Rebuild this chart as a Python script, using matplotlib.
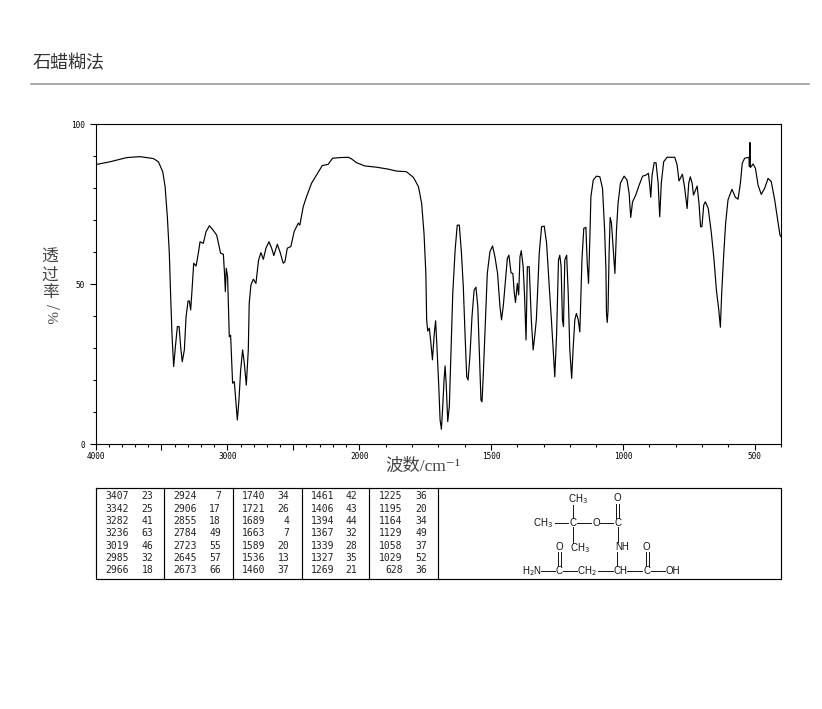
import matplotlib
matplotlib.use("Agg")
import numpy as np
import matplotlib.pyplot as plt
from matplotlib.ticker import FixedLocator

cjk = ['Noto Sans CJK SC', 'DejaVu Sans']
serif_cjk = ['Liberation Serif', 'Noto Sans CJK SC', 'DejaVu Sans']
plt.rcParams['font.family'] = cjk

# spectrum
wavenumber = [4000, 3889, 3763, 3662, 3561, 3523, 3490, 3472, 3455, 3440, 3429, 3419, 3407, 3394, 3379, 3366,
              3354, 3342, 3326, 3313, 3298, 3288, 3278, 3268, 3255, 3237, 3220, 3207, 3182, 3162, 3136, 3111,
              3081, 3051, 3030, 3020, 3015, 3008, 2998, 2985, 2975, 2960, 2947, 2934, 2924, 2912, 2899, 2884,
              2871, 2856, 2841, 2834, 2821, 2803, 2783, 2763, 2745, 2727, 2707, 2684, 2664, 2647, 2621, 2601,
              2576, 2563, 2545, 2518, 2493, 2462, 2450, 2424, 2399, 2361, 2323, 2280, 2235, 2202, 2147, 2083,
              2058, 2020, 1979, 1934, 1890, 1859, 1821, 1794, 1775, 1763, 1754, 1747, 1744, 1740, 1734, 1729,
              1722, 1715, 1710, 1705, 1698, 1693, 1688, 1683, 1678, 1674, 1670, 1664, 1658, 1652, 1645, 1636,
              1628, 1620, 1612, 1605, 1598, 1592, 1587, 1580, 1572, 1564, 1557, 1550, 1544, 1538, 1534, 1529,
              1521, 1514, 1504, 1494, 1485, 1475, 1466, 1460, 1453, 1446, 1438, 1432, 1424, 1417, 1412, 1407,
              1400, 1395, 1390, 1385, 1378, 1373, 1367, 1362, 1355, 1347, 1340, 1333, 1328, 1324, 1317, 1308,
              1298, 1289, 1279, 1270, 1264, 1258, 1251, 1244, 1239, 1234, 1229, 1225, 1220, 1213, 1207, 1201,
              1194, 1188, 1182, 1176, 1169, 1163, 1155, 1148, 1140, 1135, 1130, 1125, 1121, 1112, 1100, 1087,
              1077, 1069, 1064, 1062, 1059, 1056, 1052, 1048, 1043, 1037, 1030, 1024, 1018, 1009, 995, 984,
              976, 970, 963, 951, 938, 925, 913, 903, 898, 894, 889, 881, 874, 866, 860, 854,
              845, 832, 803, 794, 787, 780, 774, 766, 756, 750, 744, 737, 732, 718, 711, 705,
              700, 693, 687, 676, 664, 654, 645, 636, 630, 625, 617, 610, 601, 586, 573, 563,
              554, 547, 538, 521, 520, 518, 516, 506, 497, 487, 475, 462, 449, 437, 424, 411,
              404, 400]
transmittance = [87.3, 88.2, 89.5, 89.8, 89.2, 88.2, 85.1, 80.4, 71, 59.6, 45, 33.5, 24.2, 30.4, 36.7, 36.7,
                 30.4, 25.7, 29.4, 39.8, 44.7, 44.7, 41.9, 48, 56.5, 55.6, 59.6, 63.2, 62.7, 66.3, 68.2, 67,
                 65.3, 59.6, 59.3, 52.3, 47.6, 54.9, 52.3, 33.5, 34, 19, 19.5, 12.7, 7.5, 13.7, 23, 29.4,
                 25.2, 18.4, 29.4, 44, 49.7, 51.5, 50.2, 57.5, 59.8, 57.7, 61.2, 63.2, 61.2, 58.9, 62.4, 60.1,
                 56.5, 57, 61.2, 61.7, 66.4, 69, 68.4, 74.2, 77.3, 81.5, 84.1, 87, 87.4, 89.3, 89.5, 89.6,
                 89.1, 87.9, 86.9, 86.5, 85.9, 85.3, 85.1, 83.3, 80.4, 75.2, 65.8, 53.3, 38.8, 35.3, 36.2, 32.5,
                 26.3, 34.6, 38.5, 30.4, 18, 7.5, 4.6, 11.7, 20, 24.4, 19, 7, 11.7, 28.3, 47, 60.6,
                 68.4, 68.4, 59.6, 49.2, 33.5, 21, 20, 27.3, 39.8, 48.1, 49, 43, 28.3, 13.7, 13.2, 22,
                 38.8, 53.3, 60.1, 61.9, 58.5, 53.3, 43, 38.8, 43.4, 50.2, 58, 59, 53.5, 53.3, 47.6, 44.2,
                 50.2, 46.6, 58.5, 60.4, 55.4, 47, 32.5, 55.4, 55.4, 38.8, 29.4, 34.6, 38.8, 46, 59.6, 67.9,
                 68.1, 62.7, 49.2, 37.7, 29.4, 21, 34.6, 57.5, 59, 55.4, 38.8, 36.7, 57.5, 59, 47, 29.4,
                 20.5, 30.4, 38.8, 40.8, 38.8, 35, 57.5, 67.4, 67.7, 56.5, 50.2, 64.3, 77.3, 82.5, 83.7, 83.5,
                 79.9, 66.9, 54.4, 40.8, 38, 41.9, 59.6, 70.8, 69, 61.7, 53.3, 66.9, 75.2, 81.5, 83.7, 82.5,
                 78.3, 70.8, 75.7, 77.8, 80.9, 83.7, 84, 84.6, 81, 77.1, 84, 87.9, 87.9, 81.5, 71, 81.5,
                 88.2, 89.6, 89.6, 87.2, 82.2, 83.3, 84.3, 80.4, 73.6, 81.5, 83.5, 81.5, 77.8, 80.6, 75.2, 67.9,
                 67.9, 74.7, 75.7, 73.6, 65.8, 57.5, 48.1, 41.9, 36.5, 47, 59.6, 69, 76.3, 79.6, 77.1, 76.5,
                 81.5, 87.7, 89.3, 89.6, 86.7, 94.2, 86.4, 87.5, 86.2, 80.9, 78, 79.9, 83, 82, 76.3, 69,
                 65.3, 64.8]

x_major = [4000, 3500, 3000, 2500, 2000, 1500, 1000, 500]
x_labels = ['4000', '', '3000', '', '2000', '1500', '1000', '500']
y_major = [0, 50, 100]

# peak table, one list per column block
peak_wn = [[3407, 3342, 3282, 3236, 3019, 2985, 2966],
           [2924, 2906, 2855, 2784, 2723, 2645, 2673],
           [1740, 1721, 1689, 1663, 1589, 1536, 1460],
           [1461, 1406, 1394, 1367, 1339, 1327, 1269],
           [1225, 1195, 1164, 1129, 1058, 1029, 628]]
peak_t = [[23, 25, 41, 63, 46, 32, 18],
          [7, 17, 18, 49, 55, 57, 66],
          [34, 26, 4, 7, 20, 13, 37],
          [42, 43, 44, 32, 28, 35, 21],
          [36, 20, 34, 49, 37, 52, 36]]

W, H = 822, 709
fig = plt.figure(figsize=(W / 100, H / 100), dpi=100)

# page overlay in pixel coordinates
page = fig.add_axes([0, 0, 1, 1])
page.set_xlim(0, W)
page.set_ylim(H, 0)
page.axis('off')

ax = fig.add_axes([95.5 / W, 1 - 444 / H, (781 - 95.5) / W, (444 - 124) / H])


def fwd(x):
    x = np.asarray(x, dtype=float)
    return np.where(x > 2000, 2000 + (x - 2000) * 0.5, x)


def inv(u):
    u = np.asarray(u, dtype=float)
    return np.where(u > 2000, 2000 + (u - 2000) * 2, u)


ax.set_xscale('function', functions=(fwd, inv))
ax.plot(wavenumber, transmittance, color='black', linewidth=0.85)
ax.set_xlim(4000, 400)
ax.set_ylim(0, 100)
ax.xaxis.set_major_locator(FixedLocator(x_major))
ax.set_xticklabels(x_labels, family='DejaVu Sans Mono', fontsize=5.6)
ax.xaxis.set_minor_locator(FixedLocator(list(range(400, 4000, 100))))
ax.yaxis.set_major_locator(FixedLocator(y_major))
ax.set_yticklabels(['0', '50', '100'], family='DejaVu Sans Mono', fontsize=5.6)
ax.yaxis.set_minor_locator(FixedLocator(list(range(10, 100, 10))))
ax.tick_params(which='major', length=4.5, width=0.8)
ax.tick_params(axis='x', which='major', pad=1)
ax.tick_params(axis='y', which='major', pad=3)
ax.tick_params(which='minor', length=2.2, width=0.8)
for s in ax.spines.values():
    s.set_linewidth(0.8)

# title and rule
page.text(33, 63, '石蜡糊法', fontsize=13, color='#333333', va='center', ha='left')
page.plot([31, 809], [84, 84], color='#999999', linewidth=1.2)

# axis labels
page.text(423, 467, '波数/cm⁻¹', fontsize=12.5, color='#444444', ha='center', va='center', family=serif_cjk)
for ch, y in zip('透过率', [257, 275, 293]):
    page.text(50, y, ch, fontsize=12, color='#444444', ha='center', va='center')
page.text(50, 306, '/', fontsize=13, color='#444444', ha='center', va='center', rotation=-90, family=serif_cjk)
page.text(50, 317, '%', fontsize=11, color='#444444', ha='center', va='center', rotation=-90, family=serif_cjk)

# table box
page.plot([95.5, 781, 781, 95.5, 95.5], [487.5, 487.5, 579, 579, 487.5], color='black', linewidth=0.85)
for x in [164, 232.5, 301.5, 369, 438]:
    page.plot([x, x], [487.5, 579], color='black', linewidth=0.85)

row_y = [496, 508.5, 521, 533.5, 545.7, 558.2, 570.3]
wn_x = [128.5, 197, 265.5, 334, 402.5]
t_x = [153.5, 221, 289.5, 357, 427]
for c in range(5):
    for r in range(7):
        page.text(wn_x[c], row_y[r], str(peak_wn[c][r]), family='DejaVu Sans Mono', fontsize=7,
                  ha='right', va='center', color='#222222')
        page.text(t_x[c], row_y[r], str(peak_t[c][r]), family='DejaVu Sans Mono', fontsize=7,
                  ha='right', va='center', color='#222222')

# structure formula
atoms = [(578, 499, 'CH$_3$'), (617.7, 498, 'O'), (543, 523, 'CH$_3$'), (572.7, 522.7, 'C'), (596, 522.7, 'O'),
         (617.7, 522.7, 'C'), (621.7, 546.7, 'NH'), (580, 547.7, 'CH$_3$'), (559.3, 546.7, 'O'),
         (646.7, 546.7, 'O'), (531.7, 570.7, 'H$_2$N'), (559.3, 570.7, 'C'), (587.3, 570.7, 'CH$_2$'),
         (620.7, 570.7, 'CH'), (646.7, 570.7, 'C'), (673.3, 570.7, 'OH')]
bonds = [(555, 523, 568, 523), (577, 523, 591, 523), (600, 523, 613, 523), (572.7, 505, 572.7, 518),
         (572.7, 527, 572.7, 543), (616, 504, 616, 518), (619, 504, 619, 518), (617.5, 527, 617.5, 542),
         (617, 552, 617, 566), (558, 552, 558, 566), (561, 552, 561, 566), (645.5, 552, 645.5, 566),
         (648.5, 552, 648.5, 566), (541, 571, 555, 571), (563, 571, 577, 571), (598, 571, 613, 571),
         (627, 571, 642, 571), (651, 571, 665, 571)]
for x, y, s in atoms:
    page.text(x, y, s, family='Liberation Sans', fontsize=7, ha='center', va='center', color='#111111')
for x0, y0, x1, y1 in bonds:
    page.plot([x0, x1], [y0, y1], color='#111111', linewidth=0.7)

page.set_xlim(0, W)
page.set_ylim(H, 0)
fig.savefig('out.png', dpi=100)
